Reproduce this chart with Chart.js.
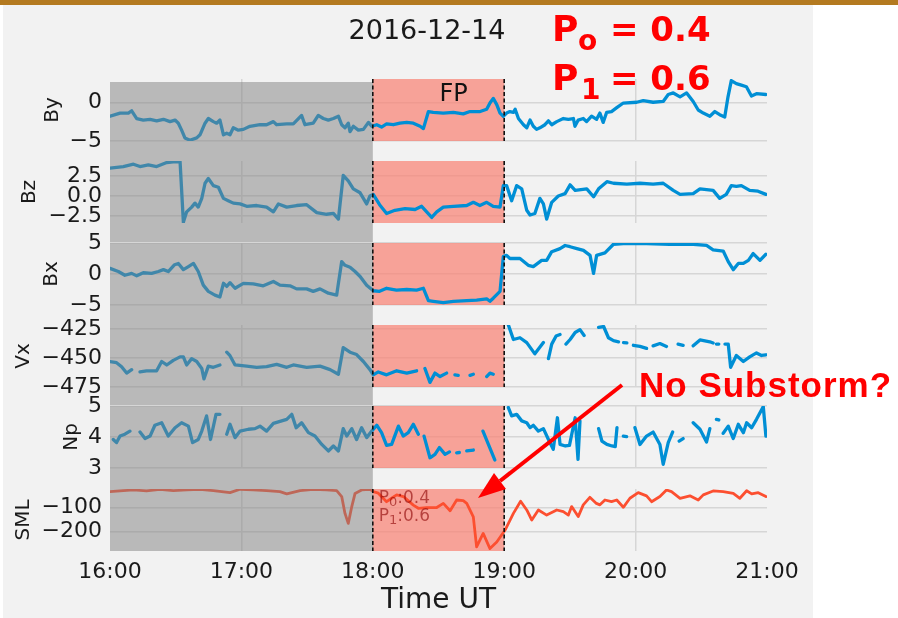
<!DOCTYPE html>
<html>
<head>
<meta charset="utf-8">
<script src="https://cdn.jsdelivr.net/npm/chart.js@4/dist/chart.umd.min.js"></script>
<style>
  body { margin: 0; background: #fff; }
  #wrap { position: relative; width: 898px; height: 618px; overflow: hidden; }
  #bar { position: absolute; left: 0; top: 0; width: 898px; height: 5px; background: #b47a20; }
  #fig { position: absolute; left: 3px; top: 5px; width: 810px; height: 613px; background: #f2f2f2; }
  canvas { position: absolute; left: 0; }
  svg { position: absolute; left: 0; top: 0; }
</style>
</head>
<body>
<div id="wrap">
  <div id="bar"></div>
  <div id="fig"></div>
</div>
<script>
// time is minutes after 16:00 UT, null = data gap
const hourTicks = [0, 60, 120, 180, 240, 300];
const hourLabels = ['16:00', '17:00', '18:00', '19:00', '20:00', '21:00'];
const grayWindow = [0, 120];   // shaded (before the forecast window)
const fpWindow = [120, 180];   // forecast period "FP"
const probLabels = ['0.4', '0.6'];

const byTicks = [0, -5], byTickLabels = ['0', '\u22125'];
const bzTicks = [2.5, 0, -2.5], bzTickLabels = ['2.5', '0.0', '\u22122.5'];
const bxTicks = [5, 0, -5], bxTickLabels = ['5', '0', '\u22125'];
const vxTicks = [-425, -450, -475], vxTickLabels = ['\u2212425', '\u2212450', '\u2212475'];
const npTicks = [5, 4, 3], npTickLabels = ['5', '4', '3'];
const smlTicks = [-100, -200], smlTickLabels = ['\u2212100', '\u2212200'];

const byData = [[0,-1.8],[4.6,-1.4],[8.4,-1.4],[9.9,-1.1],[12.2,-2.1],[15.2,-2.3],[18.3,-2.2],[21.3,-2.4],[24.4,-2.2],[27.4,-2.5],
  [29.7,-2.3],[31.2,-2.7],[32.7,-3.6],[34.2,-4.6],[36.5,-4.9],[39.6,-4.6],[41.1,-4.2],[43.4,-2.7],[44.9,-2.1],[47.2,-2.5],
  [48.7,-2.7],[50.2,-2.3],[51.8,-4.2],[53.3,-4.0],[54.8,-4.2],[56.3,-3.3],[58.6,-3.6],[60.9,-3.5],[63.9,-3.1],[68.5,-2.9],
  [71.5,-2.9],[74.6,-2.5],[76.1,-2.9],[80.7,-2.8],[83.7,-2.8],[87.5,-1.7],[89,-2.9],[92.8,-2.7],[95.1,-1.7],[97.4,-2.1],
  [99.7,-2.3],[102,-2.1],[104.3,-1.8],[105.8,-2.9],[107.3,-3.3],[108.8,-2.7],[109.6,-3.8],[111.1,-3.1],[113.4,-3.6],[115.7,-3.5],
  [118,-2.6],[119.5,-3.1],[121.8,-2.9],[124,-3.2],[126.3,-2.8],[129.4,-2.9],[132.4,-2.7],[135.5,-2.6],[138.5,-2.7],[141.6,-3.1],
  [143.1,-3.4],[145.4,-1.2],[147.6,-1.3],[152.2,-1.4],[156.8,-1.3],[161.3,-1.5],[164.4,-1.2],[169,-1.2],[172,-0.9],[173.5,-0.1],
  [175,0.5],[176.6,-0.3],[178.1,-1.4],[179.6,-1.8],[181.1,-1.4],[182.6,-1.2],[184.2,-1.3],[185,-0.9],[186.5,-2.1],[188.8,-2.9],
  [190.3,-3.3],[191.8,-2.3],[193.3,-3.1],[194.8,-3.5],[196.3,-3.3],[198.6,-2.9],[200.2,-2.4],[201.7,-2.9],[204,-2.5],[207,-2.1],
  [209.3,-2.2],[211.6,-2.1],[212.3,-3.1],[213.8,-2.3],[216.1,-2.1],[217.6,-2.5],[219.9,-1.8],[222.2,-2.2],[223.7,-1.4],[225.2,-2.6],
  [226.8,-1.3],[229,-1.2],[231.4,-0.7],[234.4,-0.1],[240.5,0],[243.5,0.2],[248,0],[252.6,0.1],[254.9,1.0],[257.2,1.2],
  [260.3,0.7],[263.3,1.2],[266.3,0.1],[268.6,-1.0],[270.9,-1.4],[273.9,-1.8],[276.2,-1.2],[278.4,-1.6],[280.7,-1.9],[282.2,0.7],
  [283.7,2.8],[286,2.4],[288.3,2.2],[290.6,2.0],[292.9,0.8],[295.2,1.1],[299.5,1.0]];

const bzData = [[0,3.5],[6.1,3.7],[10.7,4.0],[13.7,3.7],[17.5,3.9],[21.3,3.7],[25.9,4.2],[28.9,4.3],[32,4.3],[33.5,-3.3],
  [35,-2.0],[37.3,-1.4],[38.8,-0.9],[40.3,-1.4],[41.9,-0.3],[43.4,1.6],[44.9,2.2],[47.2,1.3],[49.5,1.1],[51.8,-0.3],
  [54,-0.6],[56.3,-0.9],[59.4,-1.0],[62.4,-1.3],[67,-1.2],[71.5,-1.4],[74.6,-2.0],[76.9,-1.0],[80.7,-1.4],[85.2,-1.2],
  [89.8,-1.1],[94.4,-2.1],[98.9,-2.3],[102,-2.2],[104.3,-2.9],[106.5,2.6],[108.8,1.9],[111.1,0.9],[114.2,0.4],[117.2,-1.0],
  [118.7,0],[120.2,0.2],[123.1,-1.1],[126.3,-2.2],[130.1,-1.8],[134.7,-1.6],[139.3,-1.7],[142.3,-1.3],[144.6,-2.0],[146.9,-2.7],
  [149.2,-2.0],[152.2,-1.4],[156.8,-1.3],[162.9,-1.2],[165.9,-0.8],[168.9,-1.2],[172,-0.8],[175,-1.3],[178.1,-1.4],[179.6,1.3],
  [181.1,1.3],[183.4,-0.6],[185.7,1.3],[188,0.9],[190.3,-1.8],[191.8,-2.4],[194,-2.2],[196.3,-0.3],[197.9,-1.0],[199.4,-2.9],
  [201.7,-0.8],[204.7,0],[207.8,0.3],[210.1,1.4],[212.4,0.7],[217.7,0.9],[220.8,-0.1],[223.1,0.9],[226.9,1.8],[229.9,1.6],
  [236,1.5],[242,1.6],[248,1.5],[252.6,1.6],[257.2,0.7],[260.3,0.2],[266.3,0.3],[269.4,0.9],[275.4,0.7],[278.4,-0.3],
  [281.4,0.2],[283.7,1.3],[286,1.2],[288.3,1.3],[292.1,0.7],[295.9,0.6],[299.5,0.2]];

const bxData = [[0,0.9],[3.8,0.4],[6.8,-0.2],[9.9,0.1],[12.2,-0.3],[15.2,0.2],[19,0.1],[22.1,0.4],[24.4,0.7],[26.6,0.4],
  [29.5,1.5],[31.2,1.7],[33.5,0.7],[35.8,1.2],[38.1,1.7],[40.3,0.4],[42.6,-1.8],[44.9,-2.8],[47.9,-3.4],[50.2,-3.7],
  [51.8,-1.5],[53.3,-2.0],[54.8,-1.4],[57.1,-2.3],[60.9,-1.5],[65.4,-1.6],[70,-1.9],[74.6,-1.2],[77.6,-1.8],[82.2,-1.9],
  [85.2,-2.4],[89.8,-2.4],[92.8,-2.8],[95.9,-2.4],[99.7,-3.1],[103.5,-3.4],[105.8,2.0],[107.3,1.4],[109.6,1.1],[111.9,0.4],
  [114.2,-0.4],[117.2,-1.8],[120.2,-2.7],[123.1,-2.8],[126.3,-2.3],[130.8,-2.6],[135.5,-2.5],[140,-2.6],[143.1,-2.3],[145.4,-4.3],
  [147.6,-4.4],[152.2,-4.6],[156.8,-4.4],[162.9,-4.3],[167.4,-4.2],[172,-4.0],[173.5,-4.4],[175,-3.9],[178.1,-2.8],[179.6,2.8],
  [181.1,3.0],[182.6,2.5],[187.2,2.5],[191,1.4],[193.3,1.2],[197.1,2.2],[199.4,2.2],[201.7,3.6],[205.5,4.1],[207.8,4.6],
  [210.1,4.4],[213.2,4.1],[216.2,3.8],[219.2,3.0],[220.8,0.1],[222.2,3.0],[226,3.4],[229.9,4.8],[234.4,4.9],[245,4.9],
  [255.5,4.8],[266.3,4.8],[272.4,4.6],[275.4,3.9],[280,3.7],[282.3,2.0],[284.6,0.7],[286.9,1.7],[289.2,1.7],[291.5,2.2],
  [293.7,3.3],[296.8,2.2],[299.5,3.2]];

const vxData = [[0,-453],[3,-454],[5.3,-457.5],[7.6,-463],[9.9,-460],[11.8,null],[13.7,-462],[16.7,-461],[21.3,-461],[23.6,-453],
  [25.9,-456],[28.9,-452],[32,-449],[33.5,-449],[35,-456],[37.3,-450.5],[39.6,-453],[41.9,-459],[42.9,-468],[44.9,-457],
  [47.2,-458],[50.2,-456],[51.8,null],[53.3,-445],[54.8,-448],[57.1,-456],[62.4,-457],[67,-458],[71.5,-457.5],[76.1,-455.5],
  [80.7,-458],[83.7,-456],[89.8,-458],[95.9,-457],[100.5,-460],[104.3,-464],[106.5,-441],[109.6,-445],[112.6,-447],[115.7,-453],
  [118.7,-460],[120.2,-464.5],[122.5,-462],[126.3,-464.5],[130.9,-461],[135.5,-463],[140,-461],[142,null],[143.8,-459],[146.1,-471],
  [148.4,-463],[150.7,-466],[153.7,-463],[155.5,null],[157.5,-464.5],[159,-465],[161.5,null],[164.4,-465],[165.9,-464],[169,null],
  [172,-466],[173.5,-463],[175,-464],[177.5,null],[181.9,-421.4],[184.2,-434],[187.2,-432.5],[190.3,-436.7],[194,-446.4],[197.9,-436.7],
  [199,null],[200.2,-450.5],[201.7,-438],[203.7,-431],[205.5,-429.7],[207,null],[208.2,-438],[210.1,-434],[212.4,-428],[214.6,-425.5],
  [216.5,-430.5],[219,null],[223.1,-423.6],[225.4,-422.8],[227.6,-432.5],[229.9,-435],[232.2,-436],[233.3,null],[234.5,-436.7],[236,-437],
  [237.5,null],[239,-439],[242,-440],[245,-441.7],[246.5,null],[248,-439.5],[251.1,-437.5],[254.1,-440],[256.5,null],[259.4,-438],
  [261.7,-439],[264,null],[266.3,-439.5],[269.4,-434.4],[273.9,-436],[275.4,-437],[276.2,null],[276.9,-438],[278,-438],[279.3,null],
  [280.8,-438],[282.3,-438],[283.4,-458],[286,-447.8],[289.2,-453],[292.1,-449],[295.2,-445.6],[297.5,-447.8],[299.5,-447.2]];

const npData = [[1.5,3.92],[3,3.82],[4.6,4.03],[6.8,4.09],[9.1,4.19],[11.5,null],[13.7,4.16],[16,3.95],[18.3,4.03],[20.5,4.38],
  [23.6,4.46],[26.6,4.03],[29.7,4.3],[32.7,4.46],[35.8,4.35],[37.7,3.82],[40.3,3.92],[41.9,4.19],[44.1,4.68],[45.9,3.92],
  [48.4,4.73],[50.2,4.73],[51.8,null],[53.3,4.09],[54.8,4.41],[57.1,3.98],[59.4,4.19],[63.2,4.25],[66.2,4.27],[68.5,4.35],
  [71.5,4.19],[74.6,4.44],[78.4,4.52],[80.7,4.57],[83,4.73],[85,4.3],[87.5,4.46],[90.6,4.14],[93.6,4.03],[96.7,3.76],
  [99.7,3.55],[102,3.71],[104.3,3.55],[106.5,4.27],[108.1,4.03],[110.4,4.27],[112.6,3.92],[114.9,4.3],[117.2,3.98],[119.5,4.19],
  [121.8,4.38],[124,4.14],[126.3,3.73],[128.6,3.76],[131.7,4.35],[133.9,4.03],[136.2,4.14],[138.5,4.41],[140.8,4.09],[142.1,null],
  [143.4,4.03],[146.1,3.33],[148.4,3.44],[150.4,3.66],[153,3.44],[155,3.52],[156.5,null],[158.3,3.49],[159.5,3.5],[161,null],
  [162.9,3.55],[165.9,3.58],[168,null],[170.3,4.19],[173.4,3.66],[175.7,3.26],[178,null],[181.9,4.95],[183.4,4.68],[185.7,4.73],
  [188,4.52],[190.3,4.46],[191.8,4.3],[193.3,4.38],[195.6,4.19],[197.9,4.27],[200.2,3.92],[202.4,3.6],[204.3,4.62],[205.5,3.76],
  [207.9,3.71],[209.8,3.73],[212.4,4.62],[213.7,3.28],[214.6,4.52],[218,null],[223.1,4.27],[224.6,3.87],[226.9,3.76],[229.2,3.71],
  [230.7,3.69],[231.5,4.3],[233,null],[234.4,4.03],[235.9,4.01],[237.5,null],[239.7,4.3],[242,3.76],[245,4.03],[248,4.16],
  [251.1,3.76],[252.6,3.12],[254.9,3.82],[256.9,4.16],[258.5,null],[259.9,3.87],[261.7,3.95],[264,null],[266.3,4.46],[269.4,4.25],
  [272.4,3.84],[273.9,4.27],[275.5,null],[276.9,4.57],[278,4.55],[279,null],[280,4.12],[282.3,4.35],[284.6,3.95],[286.9,4.41],
  [289.2,4.14],[290.7,4.46],[293,4.3],[295.2,4.57],[298.3,4.98],[299.5,4.03]];

const smlData = [[0,-36],[6.1,-32],[10.7,-29],[16.7,-33],[22.8,-26],[28.9,-32],[35,-29],[41.1,-26],[47.2,-32],[54.8,-40],
  [59.4,-26],[65.4,-29],[71.5,-32],[77.6,-36],[80.7,-45],[86.8,-32],[92.8,-26],[98.9,-29],[103.5,-32],[105.8,-56],
  [107.3,-125],[108.8,-166],[110.4,-97],[111.9,-43],[114.9,-29],[118.7,-26],[120.2,-36],[122.5,-42],[126.3,-77],[128.6,-63],
  [130.9,-49],[134,-56],[138.5,-91],[140.8,-104],[144.6,-101],[149.2,-101],[152.2,-84],[155.3,-114],[158.3,-70],[161.3,-73],
  [162.9,-84],[165.9,-139],[167.4,-262],[170.4,-207],[173.5,-269],[176.6,-242],[180.4,-193],[184.2,-125],[187.5,-75],[190.3,-111],
  [192.6,-152],[195.6,-111],[199.4,-132],[204,-111],[207,-118],[209.3,-132],[210.8,-97],[213.8,-138],[216.1,-90],[219.1,-59],
  [222.1,-84],[223.7,-90],[226,-70],[229,-77],[231.4,-70],[234.4,-100],[237.4,-63],[241.2,-40],[245,-53],[247.3,-77],
  [251.1,-56],[254.1,-29],[256.4,-36],[260.3,-63],[264.8,-53],[268.6,-70],[270.9,-49],[275.4,-33],[280,-36],[284.6,-43],
  [287.6,-63],[290.7,-32],[293,-45],[296,-40],[299.5,-56]];

const BLUE = '#008fd5', RED = '#fc4f30', GRID = '#d6d6d6', TXT = '#1a1a1a';
const FONT = 'DejaVu Sans';

// panel layout: top of each plot box in page pixels, left offset of the axis label
const panels = [
  { name: 'By',  data: byData,  min: -5,   max: 3,      ticks: byTicks,  labels: byTickLabels,  color: BLUE, top: 79,  padL: 41 },
  { name: 'Bz',  data: bzData,  min: -3.4, max: 4.4,    ticks: bzTicks,  labels: bzTickLabels,  color: BLUE, top: 161, padL: 18 },
  { name: 'Bx',  data: bxData,  min: -5,   max: 5,      ticks: bxTicks,  labels: bxTickLabels,  color: BLUE, top: 243, padL: 40 },
  { name: 'Vx',  data: vxData,  min: -475, max: -421.5, ticks: vxTicks,  labels: vxTickLabels,  color: BLUE, top: 325, padL: 12 },
  { name: 'Np',  data: npData,  min: 3,    max: 5,      ticks: npTicks,  labels: npTickLabels,  color: BLUE, top: 406, padL: 60 },
  { name: 'SML', data: smlData, min: -279, max: -25,    ticks: smlTicks, labels: smlTickLabels, color: RED,  top: 489, padL: 12 },
];
// top padding must exceed half a tick label plus tick padding, or Chart.js pushes the plot down
const PH = 62, PAD_T = 24, PAD_B = 24, W = 810, RIGHT = 767;

const spansPlugin = {
  id: 'spans',
  beforeDatasetsDraw(chart) {
    const { ctx, chartArea: a, scales: { x } } = chart;
    const x0 = x.getPixelForValue(fpWindow[0]), x1 = x.getPixelForValue(fpWindow[1]);
    ctx.save();
    ctx.fillStyle = 'rgba(250,128,114,0.7)';
    ctx.fillRect(x0, a.top, x1 - x0, a.bottom - a.top);
    ctx.restore();
  },
  afterDatasetsDraw(chart, args, o) {
    const { ctx, chartArea: a, scales: { x } } = chart;
    ctx.save();
    // gray band covers the curves and the gaps between panels
    const g0 = x.getPixelForValue(grayWindow[0]), g1 = x.getPixelForValue(grayWindow[1]);
    const gTop = o.first ? a.top + 3 : a.top;
    ctx.fillStyle = 'rgba(128,128,128,0.5)';
    ctx.fillRect(g0, gTop, g1 - g0, a.bottom + o.gapBelow - gTop);

    ctx.strokeStyle = '#111';
    ctx.lineWidth = 1.6;
    ctx.setLineDash([4, 2.5]);
    fpWindow.forEach(v => {
      const px = x.getPixelForValue(v);
      ctx.beginPath();
      ctx.moveTo(px, a.top);
      ctx.lineTo(px, a.bottom);
      ctx.stroke();
    });
    ctx.setLineDash([]);

    if (o.fpLabel) {
      ctx.fillStyle = '#111';
      ctx.font = '24px "' + FONT + '"';
      ctx.textBaseline = 'alphabetic';
      ctx.fillText('FP', x.getPixelForValue((fpWindow[0] + fpWindow[1]) / 2) + 1, a.top + 22);
    }
    if (o.probs) {
      ctx.fillStyle = 'rgba(139,0,0,0.6)';
      ctx.textBaseline = 'alphabetic';
      const px = x.getPixelForValue(fpWindow[0]) + 6;
      probLabels.forEach((p, k) => {
        const y = a.top + 13.5 + k * 18.2;
        let cx = px;
        ctx.font = '17px "' + FONT + '"';
        ctx.fillText('P', cx, y);
        cx += ctx.measureText('P').width;
        ctx.font = '13px "' + FONT + '"';
        ctx.fillText(String(k), cx, y + 3);
        cx += ctx.measureText(String(k)).width;
        ctx.font = '17px "' + FONT + '"';
        ctx.fillText(':' + p, cx, y);
      });
    }
    ctx.restore();
  }
};

const wrap = document.getElementById('wrap');
panels.forEach((p, i) => {
  const last = i === panels.length - 1;
  const cTop = p.top - PAD_T;
  const c = document.createElement('canvas');
  c.width = W;
  c.height = last ? 618 - cTop : PH + PAD_T + PAD_B;
  c.style.top = cTop + 'px';
  wrap.appendChild(c);
  const gapBelow = last ? 0 : panels[i + 1].top - (p.top + PH);

  new Chart(c, {
    type: 'line',
    data: {
      datasets: [{
        data: p.data.map(([t, v]) => ({ x: t, y: v })),
        borderColor: p.color,
        borderWidth: last ? 2.8 : 3.3,
        pointRadius: 0,
        tension: 0,
        spanGaps: false,
        borderJoinStyle: 'round',
        borderCapStyle: 'round'
      }]
    },
    options: {
      responsive: false,
      animation: false,
      events: [],
      layout: { padding: { left: p.padL, right: W - RIGHT, top: PAD_T, bottom: last ? 0 : PAD_B } },
      plugins: {
        legend: { display: false },
        tooltip: { enabled: false },
        spans: { first: i === 0, gapBelow, fpLabel: i === 0, probs: last }
      },
      scales: {
        x: {
          type: 'linear', min: 0, max: 300,
          afterBuildTicks: s => { s.ticks = hourTicks.map(v => ({ value: v })); },
          afterFit: s => { s.height = last ? 67 : 0; },
          grid: {
            color: ctx => (ctx.tick && (ctx.tick.value === 0 || ctx.tick.value === 300)) ? 'rgba(0,0,0,0)' : GRID,
            lineWidth: 1.5, drawTicks: false, tickLength: 0
          },
          border: { display: false },
          ticks: {
            display: last, autoSkip: false, maxRotation: 0, padding: 8, color: TXT,
            font: { family: FONT, size: 22 },
            callback: v => hourLabels[hourTicks.indexOf(v)]
          },
          title: { display: last, text: 'Time UT', color: TXT, font: { family: FONT, size: 28 }, padding: 0 }
        },
        y: {
          min: p.min, max: p.max,
          afterBuildTicks: s => { s.ticks = p.ticks.map(v => ({ value: v })); },
          afterFit: s => { s.width = 110 - p.padL; },
          grid: { color: GRID, lineWidth: 1.5, drawTicks: false, tickLength: 0 },
          border: { display: false },
          ticks: {
            padding: 8, color: TXT, font: { family: FONT, size: 22 },
            callback: v => p.labels[p.ticks.indexOf(v)]
          },
          title: { display: true, text: p.name, color: TXT, font: { family: FONT, size: 20 }, padding: 0 }
        }
      }
    },
    plugins: [spansPlugin]
  });
});

// annotations drawn on top of the figure
const NS = 'http://www.w3.org/2000/svg';
const svg = document.createElementNS(NS, 'svg');
svg.setAttribute('width', 898);
svg.setAttribute('height', 618);
svg.innerHTML = `
  <text x="427" y="39" text-anchor="middle" font-family="DejaVu Sans" font-size="27" fill="#1a1a1a">2016-12-14</text>
  <g fill="#ff0000" font-family="DejaVu Sans" font-weight="bold">
    <text x="552" y="41" font-size="36">P</text>
    <text x="578" y="50" font-size="28">o</text>
    <text x="610" y="41" font-size="34">= ${probLabels[0]}</text>
    <text x="552" y="90" font-size="36">P</text>
    <text x="581" y="99" font-size="28">1</text>
    <text x="610" y="90" font-size="34">= ${probLabels[1]}</text>
  </g>
  <text x="639" y="397" font-family="Liberation Sans, Arial, sans-serif" font-weight="bold" font-size="35" letter-spacing="1" fill="#ff0000">No Substorm?</text>
  <line x1="622" y1="385" x2="500" y2="481" stroke="#ff0000" stroke-width="4"/>
  <polygon points="478,498 506,489 494,473" fill="#ff0000"/>`;
wrap.appendChild(svg);
</script>
</body>
</html>
